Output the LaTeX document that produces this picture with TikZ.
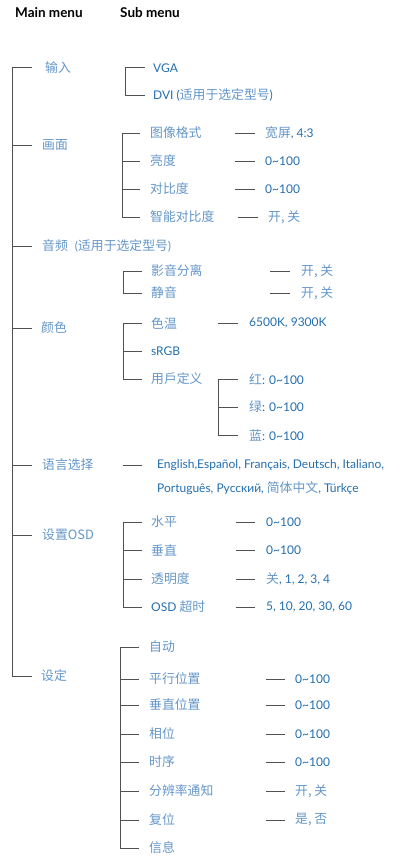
\documentclass[tikz,border=0pt]{standalone}
\usepackage{fontspec}
\setmainfont{Lato}
\newfontfamily\cjk[Scale=1.07]{Noto Sans CJK SC}
\usetikzlibrary{positioning,calc}
\definecolor{latblue}{RGB}{35,110,175}
\definecolor{zhblue}{RGB}{100,150,200}
\definecolor{linegray}{RGB}{85,80,80}
\newcommand{\zh}[1]{{\cjk\color{zhblue}#1}}
\newcommand{\hund}{0\textasciitilde100}

\begin{document}
\begin{tikzpicture}[x=1pt,y=-1pt,
every node/.style={anchor=west,inner sep=0pt,text=latblue,font=\fontsize{12}{14}\selectfont},
head/.style={text=black,font=\fontsize{13.5}{16}\selectfont\bfseries},
tree/.style={draw=linegray,line width=1pt}]
\useasboundingbox (0,0) rectangle (411,859);

\node(mainh) [head] at (15,13) {Main menu};
\node(subh) [head] at (120,13) {Sub menu};

% main menu
\node(in) at (45,68) {\zh{输入}};
\node(pic) at (42,145) {\zh{画面}};
\node(aud) at (42,246) {\zh{音频}\hspace{7pt}{\color{zhblue}(\zh{适用于选定型号})}};
\node(col) at (41,328) {\zh{颜色}};
\node(lang) at (42,465) {\zh{语言选择}};
\node(osd) at (42,535) {\zh{设置OSD}};
\node(set) at (41,676) {\zh{设定}};
\coordinate (trunk) at (12,68);
\draw[tree] (trunk |- in) ++(20,0) -- (trunk |- in) -- (trunk |- set) -- ++(20,0);
\foreach \m in {pic,aud,col,lang,osd} \draw[tree] (trunk |- \m) -- ++(20,0);

% input
\node(vga) at (153,68) {VGA};
\node(dvi) at (153,95) {DVI (\zh{适用于选定型号})};
\coordinate (b1) at (125,0);
\draw[tree] (b1 |- vga) ++(20,0) -- (b1 |- vga) -- (b1 |- dvi) -- ++(20,0);

% picture
\node(fmt) at (150,133) {\zh{图像格式}};
\node(bri) at (150,161) {\zh{亮度}};
\node(con) at (150,189) {\zh{对比度}};
\node(sc) at (150,217) {\zh{智能对比度}};
\node(fmtv) at (265,133) {\zh{宽屏}, 4:3};
\node(briv) at (265,161) {\hund};
\node(conv) at (265,189) {\hund};
\node(scv) at (268,217) {\zh{开, 关}};
\coordinate (b2) at (122,0);
\draw[tree] (b2 |- fmt) ++(18,0) -- (b2 |- fmt) -- (b2 |- sc) -- ++(18,0);
\foreach \s in {bri,con} \draw[tree] (b2 |- \s) -- ++(18,0);
\foreach \v in {fmtv,briv,conv,scv} \draw[tree] ([xshift=-10]\v.west) -- ++(-20,0);

% audio
\node(sep) at (151,271) {\zh{影音分离}};
\node(mute) at (151,293) {\zh{静音}};
\node(sepv) at (301,271) {\zh{开, 关}};
\node(mutev) at (301,293) {\zh{开, 关}};
\coordinate (b3) at (123,0);
\draw[tree] (b3 |- sep) ++(19,0) -- (b3 |- sep) -- (b3 |- mute) -- ++(19,0);
\foreach \v in {sepv,mutev} \draw[tree] ([xshift=-11]\v.west) -- ++(-20,0);

% colour
\node(tmp) at (151,323) {\zh{色温}};
\node(srgb) at (151,351) {sRGB};
\node(usr) at (151,379) {\zh{用戶定义}};
\node(tmpv) at (249,323) {6500K, 9300K};
\node(red) at (249,379) {\zh{红}: \hund};
\node(grn) at (249,407) {\zh{绿}: \hund};
\node(blu) at (249,435) {\zh{蓝}: \hund};
\coordinate (b4) at (123,0);
\draw[tree] (b4 |- tmp) ++(19,0) -- (b4 |- tmp) -- (b4 |- usr) -- ++(19,0);
\draw[tree] (b4 |- srgb) -- ++(19,0);
\draw[tree] ([xshift=-11]tmpv.west) -- ++(-20,0);
\coordinate (b5) at (218,0);
\draw[tree] (b5 |- red) ++(20,0) -- (b5 |- red) -- (b5 |- blu) -- ++(20,0);
\draw[tree] (b5 |- grn) -- ++(20,0);

% language
\node(langv) at (157,465) {English,Español, Français, Deutsch, Italiano,};
\node(langw) at (157,488) {Português, Русский, \zh{简体中文}, Türkçe};
\draw[tree] ([xshift=-15]langv.west) -- ++(-19,0);

% osd
\node(hpos) at (151,522) {\zh{水平}};
\node(vpos) at (151,550) {\zh{垂直}};
\node(trp) at (151,579) {\zh{透明度}};
\node(tmo) at (151,607) {OSD \zh{超时}};
\node(hposv) at (266,522) {\hund};
\node(vposv) at (266,550) {\hund};
\node(trpv) at (266,579) {\zh{关}, 1, 2, 3, 4};
\node(tmov) at (266,607) {5, 10, 20, 30, 60};
\coordinate (b6) at (123,0);
\draw[tree] (b6 |- hpos) ++(19,0) -- (b6 |- hpos) -- (b6 |- tmo) -- ++(19,0);
\foreach \s in {vpos,trp} \draw[tree] (b6 |- \s) -- ++(19,0);
\foreach \v in {hposv,vposv,trpv,tmov} \draw[tree] ([xshift=-11]\v.west) -- ++(-19,0);

% setup
\node(auto) at (149,647) {\zh{自动}};
\node(hp) at (149,679) {\zh{平行位置}};
\node(vp) at (149,705) {\zh{垂直位置}};
\node(ph) at (149,734) {\zh{相位}};
\node(clk) at (149,762) {\zh{时序}};
\node(res) at (149,791) {\zh{分辨率通知}};
\node(rst) at (149,820) {\zh{复位}};
\node(info) at (149,848) {\zh{信息}};
\node(hpv) at (295,679) {\hund};
\node(vpv) at (295,705) {\hund};
\node(phv) at (295,734) {\hund};
\node(clkv) at (295,762) {\hund};
\node(resv) at (295,791) {\zh{开, 关}};
\node(rstv) at (295,820) {\zh{是, 否}};
\coordinate (b7) at (120,0);
\draw[tree] (b7 |- auto) ++(19,0) -- (b7 |- auto) -- (b7 |- info) -- ++(19,0);
\foreach \s in {hp,vp,ph,clk,res,rst} \draw[tree] (b7 |- \s) -- ++(19,0);
\foreach \v in {hpv,vpv,phv,clkv,resv,rstv} \draw[tree] ([xshift=-10]\v.west) -- ++(-19,0);
\end{tikzpicture}
\end{document}
